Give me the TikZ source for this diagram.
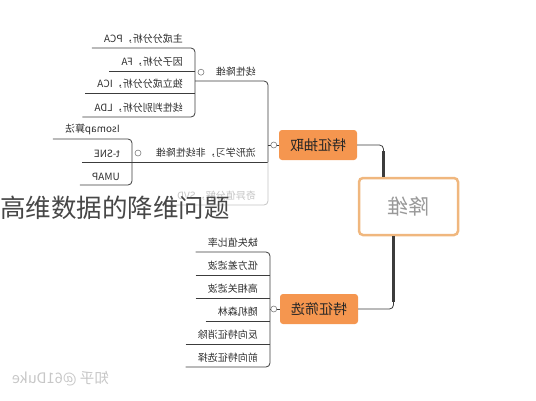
\documentclass[tikz,border=0pt]{standalone}
\usepackage{graphicx}
\usepackage{fontspec}
\setmainfont{Noto Sans CJK SC}
\usetikzlibrary{calc,positioning}

\definecolor{boxor}{HTML}{F5964F}
\definecolor{rootor}{HTML}{F0B77E}
\definecolor{linegray}{HTML}{3C3C3C}
\definecolor{leaftxt}{HTML}{2E2E2E}
\definecolor{fadegray}{HTML}{C4C4C4}

\newcommand\mir[1]{\reflectbox{#1}}

\begin{document}
\begin{tikzpicture}[x=1pt,y=-1pt,
  leaf/.style={anchor=south east,inner xsep=12pt,inner ysep=4pt,text=leaftxt,
    font=\fontsize{10}{12}\selectfont},
  topic/.style={rectangle,fill=boxor,rounded corners=3pt,text=black!85,
    minimum width=78pt,minimum height=30pt,font=\fontsize{14}{16}\selectfont},
  root/.style={rectangle,draw=rootor,line width=2.5pt,fill=white,rounded corners=4pt,
    minimum width=99pt,minimum height=57pt,text=black!40,font=\fontsize{21}{24}\selectfont},
  knob/.style={circle,draw=black!50,fill=white,inner sep=0pt,minimum size=6pt,line width=0.6pt},
  link/.style={draw=linegray,line width=0.8pt,rounded corners=4pt},
  faded/.style={draw=fadegray,line width=0.8pt,rounded corners=4pt}]
  \useasboundingbox (0,0) rectangle (536,400);
  % centre
  \node[root] (jw) at (408.5,206.5) {\mir{降维}};
  \node[topic] (tq) at (318,145) {\mir{特征抽取}};
  \node[topic] (sx) at (319,309) {\mir{特征筛选}};
  \draw[link] (tq.east) -| ($(jw.north)+(-25,0)$);
  \draw[linegray,line width=2.6pt] ($(jw.north)+(-25,0)$) -- ++(0,-26);
  \draw[link] (sx.east) -| ($(jw.south)+(-15,0)$);
  \draw[linegray,line width=2.6pt] ($(jw.south)+(-15,0)$) -- ++(0,66);
  % lineaire
  \node[leaf] (pca) at (195,48) {\mir{主成分分析，PCA}};
  \node[leaf] (fa) at (195,71) {\mir{因子分析，FA}};
  \node[leaf] (ica) at (195,93) {\mir{独立成分分析，ICA}};
  \node[leaf] (lda) at (195,117) {\mir{线性判别分析，LDA}};
  \draw[link] (pca.south west) -- (pca.south east) -- (lda.south east) -- (lda.south west);
  \draw[link] (fa.south west) -- (fa.south east);
  \draw[link] (ica.south west) -- (ica.south east);
  % manifold
  \node[leaf] (iso) at (132,139) {\mir{Isomap算法}};
  \node[leaf] (tsne) at (132,162) {\mir{t-SNE}};
  \node[leaf] (umap) at (132,185) {\mir{UMAP}};
  \draw[link] (iso.south west) -- (iso.south east) -- (umap.south east) -- (umap.south west);
  % branches of tq
  \node[leaf] (lin) at (268,81) {\mir{线性降维}};
  \node[leaf] (mfd) at (268,162) {\mir{流形学习，非线性降维}};
  \node[leaf,text=fadegray] (svd) at (268,205) {\mir{奇异值分解，SVD}};
  \draw[link] (pca.east |- lin.south) -- (lin.south east) -- (mfd.south east);
  \draw[link] (tsne.south west) -- (mfd.south east);
  \draw[faded] (mfd.south east) -- (svd.south east) -- (svd.south west);
  \draw[link] (tq.west) -- (tq.west -| lin.south east);
  \node[knob] (k1) at ($(pca.east |- lin.center)+(6,0)$) {};
  \node[knob] (k2) at ($(iso.east |- mfd.center)+(6,0)$) {};
  \node[knob] (k3) at ($(tq.west)+(-5,0)$) {};
  % selection
  \node[leaf] (qs) at (270,252) {\mir{缺失值比率}};
  \node[leaf] (dfc) at (270,275) {\mir{低方差滤波}};
  \node[leaf] (gxg) at (270,298) {\mir{高相关滤波}};
  \node[leaf] (sjsl) at (270,321) {\mir{随机森林}};
  \node[leaf] (fx) at (270,344) {\mir{反向特征消除}};
  \node[leaf] (qx) at (270,367) {\mir{前向特征选择}};
  \draw[link] (qs.south west) -- (qs.south east) -- (qx.south east) -- (qx.south west);
  \foreach \n in {dfc,gxg,sjsl,fx} \draw[link] (\n.south west) -- (\n.south east);
  \draw[link] (sx.west) -- (sx.west -| qs.south east);
  \node[knob] (k4) at ($(sx.west)+(-6,0)$) {};
  % caption and mark
  \node[anchor=west,inner sep=0pt,text=black!72,font=\fontsize{25.5}{28}\selectfont] (cap) at (0,208) {高维数据的降维问题};
  \node[anchor=west,inner sep=0pt,text=black!22,font=\fontsize{14.5}{17}\selectfont] (wm) at (12,379) {\mir{知乎 @61Duke}};
\end{tikzpicture}
\end{document}
